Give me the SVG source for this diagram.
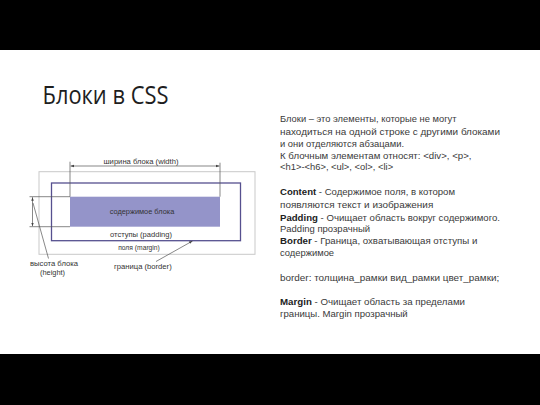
<svg xmlns="http://www.w3.org/2000/svg" width="540" height="405" viewBox="0 0 540 405">
<defs>
<style>
.d{font-family:"Liberation Sans",Arial,sans-serif;fill:#333;font-size:7.4px}
.t{font-family:"Liberation Sans",Arial,sans-serif;fill:#3a3a3a;font-size:9.4px}
.b{font-weight:bold;fill:#222}
.ln{stroke:#555;stroke-width:0.7;fill:none}
</style>
<marker id="ah" viewBox="0 0 6 6" refX="6" refY="3" markerWidth="5" markerHeight="5" orient="auto-start-reverse"><path d="M0,0.8 L6,3 L0,5.2 Z" fill="#444"/></marker>
</defs>
<rect x="0" y="0" width="540" height="405" fill="#fff"/>
<rect x="0" y="0" width="540" height="50" fill="#000"/>
<rect x="0" y="354" width="540" height="51" fill="#000"/>
<g id="title"><text x="42.5" y="103.5" font-family="'Open Sans','Liberation Sans',sans-serif" font-size="25" fill="#1e1e1e" textLength="126" lengthAdjust="spacingAndGlyphs">Блоки в CSS</text></g>
<g id="margin-box"><rect x="39" y="171.7" width="216" height="82.6" fill="none" stroke="#c9c9c9" stroke-width="1"/></g>
<g id="border-box"><rect x="51.5" y="183" width="189" height="57.7" fill="none" stroke="#56508f" stroke-width="1.3"/></g>
<g id="content-box"><rect x="70" y="196.7" width="150" height="30" fill="#9494c9"/>
<text class="d" x="142" y="213.5" text-anchor="middle" font-size="8.2" fill="#2a2a4a">содержимое блока</text></g>
<g id="labels">
<text class="d" x="141" y="236.5" text-anchor="middle" textLength="62" lengthAdjust="spacingAndGlyphs">отступы (padding)</text>
<text class="d" x="139" y="250" text-anchor="middle" textLength="41.7" lengthAdjust="spacingAndGlyphs">поля (margin)</text>
<text class="d" x="141" y="164" text-anchor="middle" textLength="75" lengthAdjust="spacingAndGlyphs">ширина блока (width)</text>
<text class="d" x="54" y="266" text-anchor="middle" textLength="48" lengthAdjust="spacingAndGlyphs">высота блока</text>
<text class="d" x="52.5" y="274.5" text-anchor="middle">(height)</text>
<text class="d" x="114" y="269" textLength="57.7" lengthAdjust="spacingAndGlyphs">граница (border)</text>
</g>
<g id="connectors">
<line class="ln" x1="70" y1="161.7" x2="70" y2="196.7"/>
<line class="ln" x1="220" y1="162.7" x2="220" y2="196.7"/>
<line class="ln" x1="70.5" y1="166" x2="219.5" y2="166" marker-start="url(#ah)" marker-end="url(#ah)"/>
<line class="ln" x1="29.5" y1="196.7" x2="70" y2="196.7"/>
<line class="ln" x1="29.5" y1="226.7" x2="70" y2="226.7"/>
<line class="ln" x1="32.5" y1="197.2" x2="32.5" y2="226.2" marker-start="url(#ah)" marker-end="url(#ah)"/>
<line class="ln" x1="48.5" y1="258.5" x2="33" y2="203"/>
<line class="ln" x1="156" y1="261.5" x2="192.5" y2="241" marker-end="url(#ah)"/>
</g>
<g id="text-block">
<text class="t" x="280" y="122" textLength="176.5" lengthAdjust="spacingAndGlyphs">Блоки – это элементы, которые не могут</text>
<text class="t" x="280" y="134.5" textLength="220" lengthAdjust="spacingAndGlyphs">находиться на одной строке с другими блоками</text>
<text class="t" x="280" y="146.5">и они отделяются абзацами.</text>
<text class="t" x="280" y="158.5" textLength="191.5" lengthAdjust="spacingAndGlyphs">К блочным элементам относят: &lt;div&gt;, &lt;p&gt;,</text>
<text class="t" x="280" y="170">&lt;h1&gt;-&lt;h6&gt;, &lt;ul&gt;, &lt;ol&gt;, &lt;li&gt;</text>
<text class="t" x="280" y="194.5" textLength="175" lengthAdjust="spacingAndGlyphs"><tspan class="b">Content</tspan> - Содержимое поля, в котором</text>
<text class="t" x="280" y="207.5" textLength="153.3" lengthAdjust="spacingAndGlyphs">появляются текст и изображения</text>
<text class="t" x="280" y="220.5" textLength="220" lengthAdjust="spacingAndGlyphs"><tspan class="b">Padding</tspan> - Очищает область вокруг содержимого.</text>
<text class="t" x="280" y="231.5" textLength="90" lengthAdjust="spacingAndGlyphs">Padding прозрачный</text>
<text class="t" x="280" y="244" textLength="197.3" lengthAdjust="spacingAndGlyphs"><tspan class="b">Border</tspan> - Граница, охватывающая отступы и</text>
<text class="t" x="280" y="256">содержимое</text>
<text class="t" x="280" y="281" textLength="219.3" lengthAdjust="spacingAndGlyphs">border: толщина_рамки вид_рамки цвет_рамки;</text>
<text class="t" x="280" y="305" textLength="185" lengthAdjust="spacingAndGlyphs"><tspan class="b">Margin</tspan> - Очищает область за пределами</text>
<text class="t" x="280" y="316.5" textLength="127.7" lengthAdjust="spacingAndGlyphs">границы. Margin прозрачный</text>
</g>
</svg>
